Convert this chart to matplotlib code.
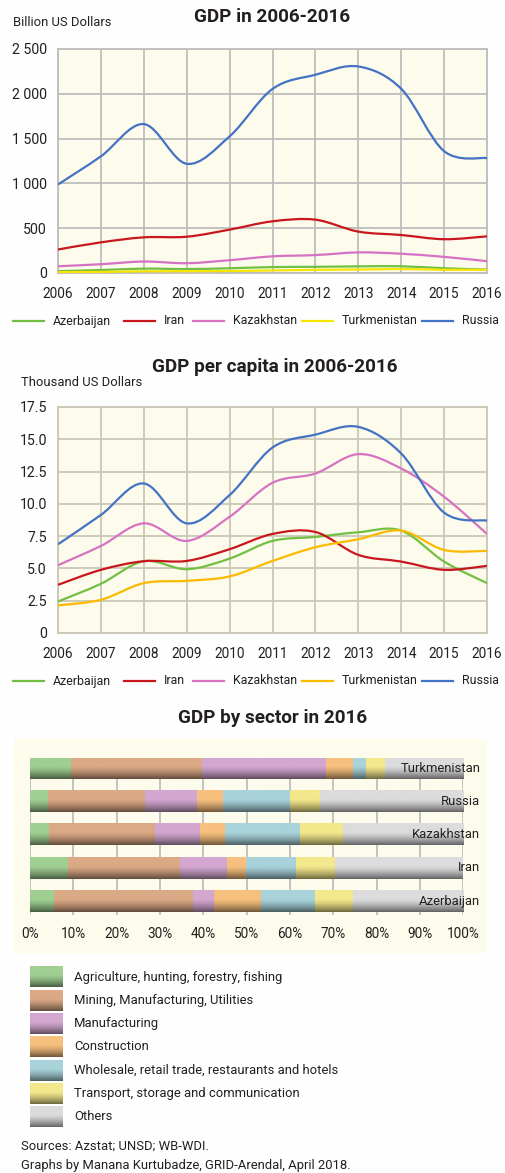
import numpy as np
import matplotlib
matplotlib.use('Agg')
import matplotlib.pyplot as plt
import matplotlib.colors as mcolors
from matplotlib import font_manager as fm
from matplotlib.path import Path
from matplotlib.patches import PathPatch, Rectangle

# Data
years = [2006, 2007, 2008, 2009, 2010, 2011, 2012, 2013, 2014, 2015, 2016]
countries = ['Azerbaijan', 'Iran', 'Kazakhstan', 'Turkmenistan', 'Russia']

# GDP, billion US dollars
gdp_azerbaijan = [21, 33, 49, 44, 53, 66, 69, 74, 75, 53, 38]
gdp_iran = [262, 342, 398, 405, 484, 577, 595, 462, 424, 377, 409]
gdp_kazakhstan = [75, 98, 128, 109, 143, 186, 200, 230, 215, 180, 132]
gdp_turkmenistan = [10, 12, 19, 20, 22, 29, 35, 39, 44, 36, 36]
gdp_russia = [988, 1302, 1662, 1219, 1525, 2054, 2212, 2305, 2056, 1360, 1282]
gdp_ticks = [0, 500, 1000, 1500, 2000, 2500]
gdp_tick_labels = ['0', '500', '1 000', '1 500', '2 000', '2 500']

# GDP per capita, thousand US dollars
pc_azerbaijan = [2.44, 3.81, 5.56, 4.94, 5.76, 7.13, 7.44, 7.80, 7.93, 5.53, 3.86]
pc_iran = [3.73, 4.89, 5.56, 5.58, 6.49, 7.67, 7.82, 6.05, 5.53, 4.89, 5.20]
pc_kazakhstan = [5.25, 6.74, 8.49, 7.13, 9.00, 11.63, 12.35, 13.85, 12.74, 10.55, 7.67]
pc_turkmenistan = [2.14, 2.57, 3.86, 4.04, 4.38, 5.58, 6.64, 7.26, 7.93, 6.43, 6.36]
pc_russia = [6.87, 9.14, 11.58, 8.49, 10.68, 14.36, 15.36, 15.96, 13.90, 9.32, 8.70]
pc_ticks = [0, 2.5, 5, 7.5, 10, 12.5, 15, 17.5]
pc_tick_labels = ['0', '2.5', '5.0', '7.5', '10.0', '12.5', '15.0', '17.5']

# GDP by sector in 2016, % (bottom to top)
sector_countries = ['Azerbaijan', 'Iran', 'Kazakhstan', 'Russia', 'Turkmenistan']
sectors = ['Agriculture, hunting, forestry, fishing',
           'Mining, Manufacturing, Utilities',
           'Manufacturing',
           'Construction',
           'Wholesale, retail trade, restaurants and hotels',
           'Transport, storage and communication',
           'Others']
share_agriculture = [5.5, 8.7, 4.4, 4.1, 9.5]
share_mining = [32.1, 25.9, 24.5, 22.4, 30.1]
share_manufacturing = [4.8, 10.9, 10.3, 12.0, 28.6]
share_construction = [10.9, 4.3, 5.8, 6.0, 6.4]
share_trade = [12.5, 11.7, 17.3, 15.5, 2.9]
share_transport = [8.7, 9.0, 10.0, 6.9, 4.4]
share_others = [25.5, 29.5, 27.7, 33.1, 18.1]
pct_ticks = [0, 10, 20, 30, 40, 50, 60, 70, 80, 90, 100]

# Fonts: no narrow family here, so a plain sans scaled down a bit
names = {f.name for f in fm.fontManager.ttflist}
if 'Roboto' in names:
    FONT = 'Roboto'
    k = 0.85
else:
    FONT = 'DejaVu Sans'
    k = 0.78
plt.rcParams['font.family'] = [FONT, 'DejaVu Sans']

W, H = 506, 1173
fig = plt.figure(figsize=(W / 100, H / 100), dpi=100)
fig.patch.set_facecolor('#fefefe')

bg = fig.add_axes([0, 0, 1, 1], zorder=0)
bg.set_xlim(0, W)
bg.set_ylim(H, 0)
bg.axis('off')

CREAM = '#fdfbeb'
TXT = '#231f20'


def px_axes(x0, y0, x1, y1, **kw):
    return fig.add_axes([x0 / W, 1 - y1 / H, (x1 - x0) / W, (y1 - y0) / H], **kw)


def smooth_path(xs, ys):
    pts = np.column_stack([xs, ys]).astype(float)
    ext = np.vstack([pts[0], pts, pts[-1]])
    verts = [pts[0]]
    codes = [Path.MOVETO]
    for i in range(len(pts) - 1):
        p0, p1, p2, p3 = ext[i], ext[i + 1], ext[i + 2], ext[i + 3]
        verts += [p1 + (p2 - p0) / 6, p2 - (p3 - p1) / 6, p2]
        codes += [Path.CURVE4] * 3
    return Path(verts, codes)


def line_chart(ax, series, colors, ticks, labels, ymax, grid_color):
    ax.set_facecolor(CREAM)
    for vals, c in zip(series, colors):
        ax.add_patch(PathPatch(smooth_path(years, vals), fill=False,
                               edgecolor=c, lw=1.6, zorder=3))
    ax.set_xlim(years[0], years[-1])
    ax.set_ylim(0, ymax)
    ax.set_xticks(years)
    ax.set_yticks(ticks)
    ax.set_yticklabels(labels)
    ax.grid(True, color=grid_color, lw=1.3, zorder=0)
    ax.set_axisbelow(True)
    ax.tick_params(length=0, labelsize=12 * k, colors=TXT)
    ax.tick_params(axis='y', pad=8)
    ax.tick_params(axis='x', pad=10, labelsize=11.5 * k)
    for s in ax.spines.values():
        s.set_color(grid_color)
        s.set_linewidth(1.3)


def line_legend(y, colors):
    xs = [13, 124, 193, 302, 422]
    for x, c, name in zip(xs, colors, countries):
        bg.plot([x, x + 31], [y, y], color=c, lw=1.6)
        bg.text(x + 40, y, name, fontsize=10.5 * k, color=TXT, va='center', ha='left')


# --- GDP chart
top_colors = ['#72c043', '#c8171e', '#d672c4', '#f7e400', '#4472c4']
ax1 = px_axes(58, 49, 487, 273)
line_chart(ax1, [gdp_azerbaijan, gdp_iran, gdp_kazakhstan, gdp_turkmenistan, gdp_russia],
           top_colors, gdp_ticks, gdp_tick_labels, 2500, '#bdbdbd')
bg.text(272, 17, 'GDP in 2006-2016', fontsize=16 * k, fontweight='bold',
        color=TXT, ha='center', va='center')
bg.text(13, 22, 'Billion US Dollars', fontsize=11 * k, color=TXT, ha='left', va='center')
line_legend(321, top_colors)

# --- GDP per capita chart
mid_colors = ['#72c043', '#c8171e', '#d672c4', '#fbba00', '#4472c4']
ax2 = px_axes(58, 407, 487, 633)
line_chart(ax2, [pc_azerbaijan, pc_iran, pc_kazakhstan, pc_turkmenistan, pc_russia],
           mid_colors, pc_ticks, pc_tick_labels, 17.5, '#cac7b6')
bg.text(275, 367, 'GDP per capita in 2006-2016', fontsize=16 * k, fontweight='bold',
        color=TXT, ha='center', va='center')
bg.text(21, 383, 'Thousand US Dollars', fontsize=11 * k, color=TXT, ha='left', va='center')
line_legend(681, mid_colors)

# --- GDP by sector chart
sector_colors = ['#a0cf92', '#dba985', '#d3a7d0', '#f7c07e', '#a9d3db', '#f3e88c', '#dcdcde']


def shade(color, n=64):
    base = np.array(mcolors.to_rgb(color))
    t = np.linspace(0, 1, n)
    f = np.where(t < 0.4, 1.0, 1.0 - 0.55 * ((t - 0.4) / 0.6) ** 1.4)
    return (base[None, :] * f[:, None])[:, None, :]


bg.add_patch(Rectangle((14, 739), 473, 214, facecolor=CREAM, edgecolor='none'))
bg.text(272.5, 718, 'GDP by sector in 2016', fontsize=16 * k, fontweight='bold',
        color=TXT, ha='center', va='center')

ax3 = px_axes(30, 758, 463.3, 915, zorder=1)
ax3.set_facecolor('none')
ypos = np.arange(len(sector_countries))
shares = [share_agriculture, share_mining, share_manufacturing, share_construction,
          share_trade, share_transport, share_others]
left = np.zeros(len(sector_countries))
for vals, c in zip(shares, sector_colors):
    bars = ax3.barh(ypos, vals, left=left, height=0.64, color=c, zorder=2)
    for r in bars:
        x0, y0 = r.get_x(), r.get_y()
        ax3.imshow(shade(c), extent=(x0, x0 + r.get_width(), y0, y0 + r.get_height()),
                   aspect='auto', origin='upper', zorder=3, interpolation='bilinear')
    left = left + np.array(vals)
ax3.set_xlim(0, 100)
ax3.set_ylim(-0.42, 4.32)
ax3.set_xticks(pct_ticks)
ax3.set_xticklabels([f'{p}%' for p in pct_ticks])
ax3.set_yticks([])
ax3.grid(True, axis='x', color='#bdbdbd', lw=1.3, zorder=0)
ax3.set_axisbelow(True)
ax3.tick_params(length=0, labelsize=11.5 * k, colors=TXT, pad=9)
for s in ax3.spines.values():
    s.set_visible(False)
label_x = 100 + 17 * 100 / 433.3
for yi, name in zip(ypos, sector_countries):
    ax3.text(label_x, yi, name, fontsize=11 * k, color=TXT,
             ha='right', va='center', zorder=5, clip_on=False)

# sector legend
for i, (name, c) in enumerate(zip(sectors, sector_colors)):
    yc = 977 + i * 23.3
    bg.imshow(shade(c), extent=(30, 63, yc + 10.5, yc - 10.5), aspect='auto',
              origin='upper', interpolation='bilinear')
    bg.text(74, yc, name, fontsize=11 * k, color=TXT, ha='left', va='center')
bg.set_xlim(0, W)
bg.set_ylim(H, 0)

bg.text(21, 1146, 'Sources: Azstat; UNSD; WB-WDI.', fontsize=11 * k, color=TXT,
        ha='left', va='center')
bg.text(21, 1166, 'Graphs by Manana Kurtubadze, GRID-Arendal, April 2018.',
        fontsize=11 * k, color=TXT, ha='left', va='center')

fig.savefig('out.png', dpi=100, facecolor=fig.get_facecolor())
